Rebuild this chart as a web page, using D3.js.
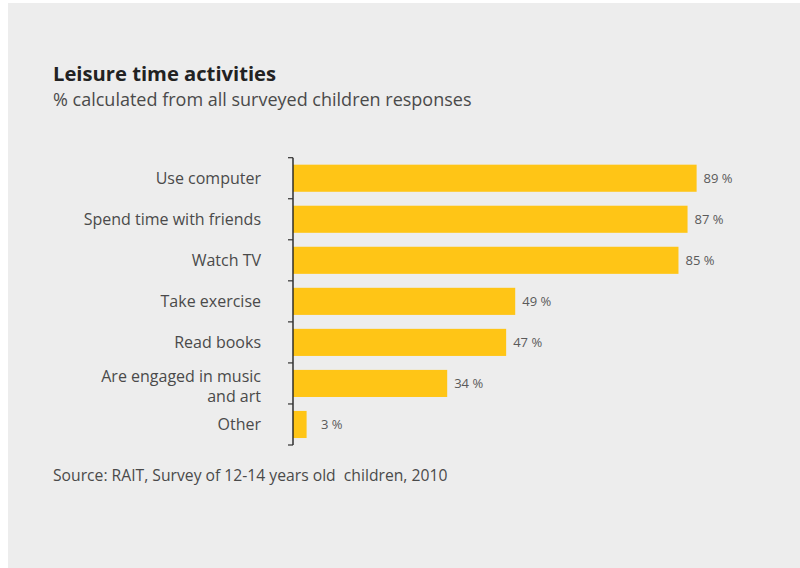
<!DOCTYPE html>
<html>
<head>
<meta charset="utf-8">
<script src="https://cdn.jsdelivr.net/npm/d3@7"></script>
<style>
  html, body { margin: 0; padding: 0; background: #ffffff; }
  svg { display: block; font-family: "Open Sans", "Noto Sans", sans-serif; }
</style>
</head>
<body>
<svg id="chart" width="800" height="568"></svg>
<script>
// Leisure time activities, share of surveyed children (%)
const categories = [
  ["Use computer"],
  ["Spend time with friends"],
  ["Watch TV"],
  ["Take exercise"],
  ["Read books"],
  ["Are engaged in music", "and art"],
  ["Other"]
];
const values = [89, 87, 85, 49, 47, 34, 3];
const valueLabels = ["89 %", "87 %", "85 %", "49 %", "47 %", "34 %", "3 %"];

const title = "Leisure time activities";
const subtitle = "% calculated from all surveyed children responses";
const source = "Source: RAIT, Survey of 12-14 years old  children, 2010";

const svg = d3.select("#chart");

// panel background
svg.append("rect")
  .attr("x", 8).attr("y", 3)
  .attr("width", 792).attr("height", 565)
  .attr("fill", "#ededed");

const keys = categories.map((c, i) => i);

const x = d3.scaleLinear().domain([0, 100]).range([293, 746.5]);
const y = d3.scaleBand()
  .domain(keys)
  .range([157.7, 445])
  .paddingInner(0.34)
  .paddingOuter(0.17);

// bars
svg.append("g").selectAll("rect")
  .data(values)
  .join("rect")
  .attr("x", x(0))
  .attr("y", (d, i) => y(i))
  .attr("width", d => x(d) - x(0))
  .attr("height", y.bandwidth())
  .attr("fill", "#ffc516");

// value labels, right-aligned in a fixed slot after each bar
svg.append("g").selectAll("text")
  .data(values)
  .join("text")
  .attr("x", d => x(d) + 36)
  .attr("y", (d, i) => y(i) + y.bandwidth() / 2 + 4.5)
  .attr("text-anchor", "end")
  .attr("font-size", 13)
  .attr("fill", "#5a5a5a")
  .text((d, i) => valueLabels[i]);

// category axis: vertical rule with ticks on band boundaries
const step = y.step();
const edges = keys.map(k => y(k) - (step - y.bandwidth()) / 2).concat([y.range()[1]]);
const axis = svg.append("g");
axis.append("line")
  .attr("x1", x(0)).attr("x2", x(0))
  .attr("y1", edges[0]).attr("y2", edges[edges.length - 1])
  .attr("stroke", "#222").attr("stroke-width", 1.4);
axis.selectAll("line.tick")
  .data(edges)
  .join("line")
  .attr("class", "tick")
  .attr("x1", x(0) - 5).attr("x2", x(0))
  .attr("y1", d => d).attr("y2", d => d)
  .attr("stroke", "#333").attr("stroke-width", 1.2);

// category labels
const labels = svg.append("g").selectAll("text")
  .data(categories)
  .join("text")
  .attr("text-anchor", "end")
  .attr("font-size", 16)
  .attr("fill", "#4a4a4a")
  .attr("y", (d, i) => y(i) + y.bandwidth() / 2 + 5.5 - (d.length - 1) * 7);
labels.selectAll("tspan")
  .data(d => d)
  .join("tspan")
  .attr("x", 261)
  .attr("dy", (d, j) => j === 0 ? 0 : 20)
  .text(d => d);

// headings
svg.append("text")
  .attr("x", 53).attr("y", 81)
  .attr("font-size", 20.2).attr("font-weight", "bold")
  .attr("fill", "#222")
  .text(title);
svg.append("text")
  .attr("x", 53).attr("y", 105.5)
  .attr("font-size", 18)
  .attr("fill", "#4a4a4a")
  .text(subtitle);

// source note
svg.append("text")
  .attr("x", 53).attr("y", 481)
  .attr("font-size", 15.7)
  .attr("fill", "#4a4a4a")
  .attr("xml:space", "preserve")
  .text(source);
</script>
</body>
</html>
